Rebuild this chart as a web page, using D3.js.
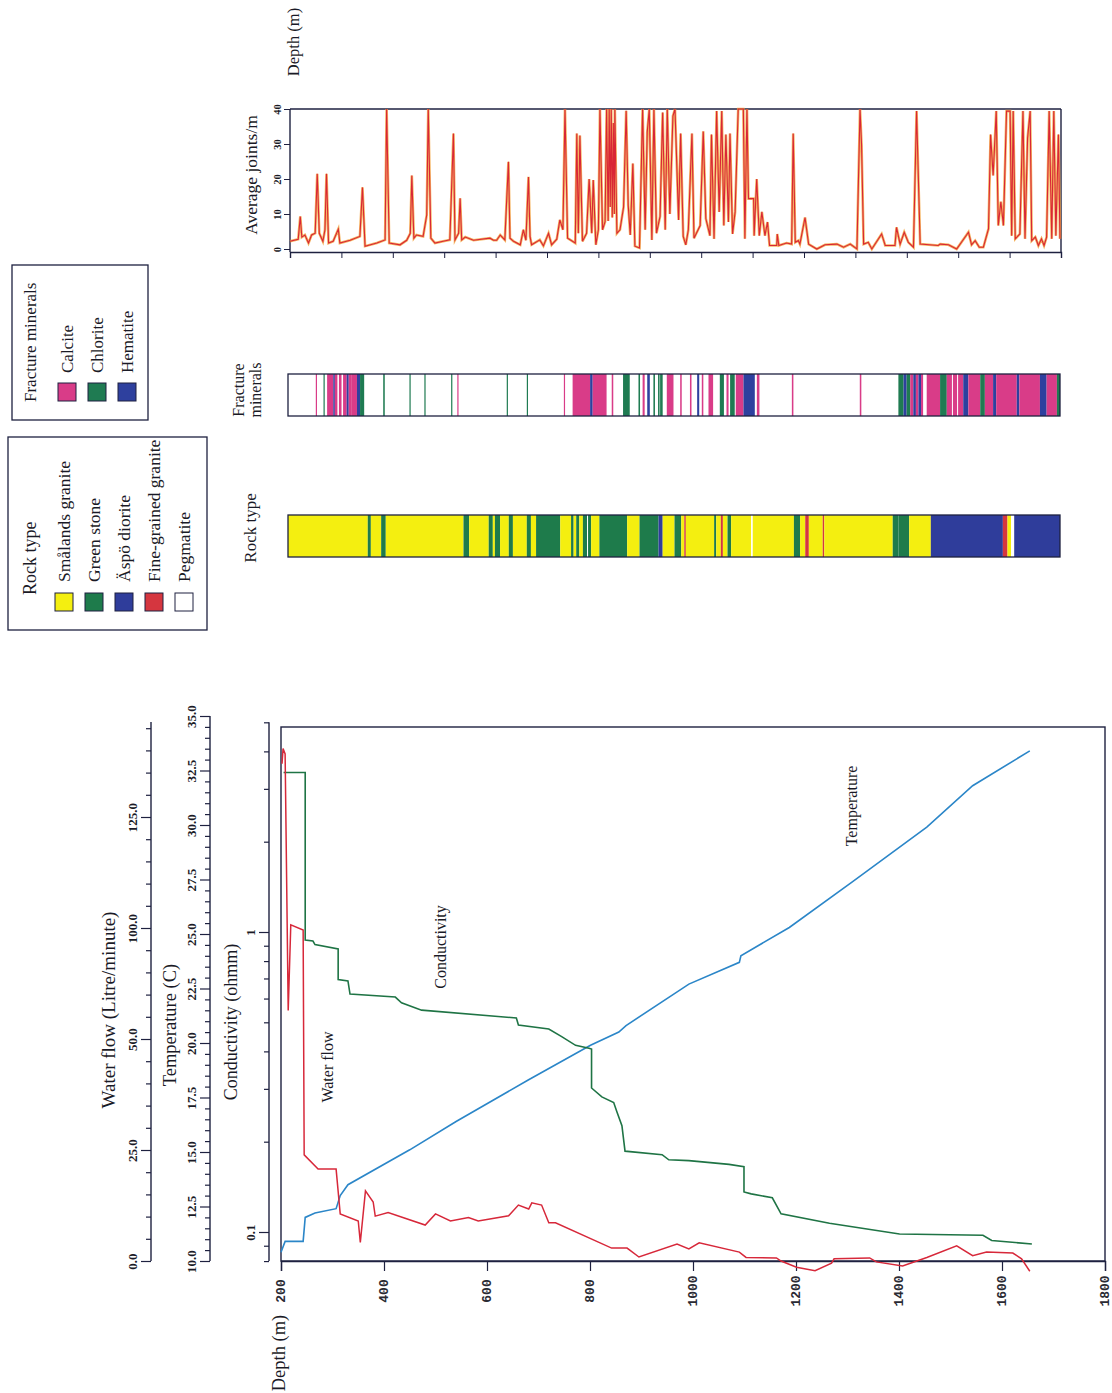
<!DOCTYPE html>
<html><head><meta charset="utf-8">
<script src="https://cdn.jsdelivr.net/npm/d3@7/dist/d3.min.js"></script>
<style>html,body{margin:0;padding:0;background:#fff;}svg{display:block}</style>
</head><body>
<svg id="chart" width="1112" height="1393"></svg>
<script>
// ================= DATA =================
const depthTicksMain = [200, 400, 600, 800, 1000, 1200, 1400, 1600, 1800];
const depthTicksTop = [200, 300, 400, 500, 600, 700, 800, 900, 1000, 1100, 1200, 1300, 1400, 1500, 1600, 1700];
const flowTicks = [0, 25, 50, 100, 125];
const flowTickLabels = ["0.0", "25.0", "50.0", "100.0", "125.0"];
const tempTicks = [10, 12.5, 15, 17.5, 20, 22.5, 25, 27.5, 30, 32.5, 35];
const tempTickLabels = ["10.0", "12.5", "15.0", "17.5", "20.0", "22.5", "25.0", "27.5", "30.0", "32.5", "35.0"];
const condTicks = [0.1, 1];
const condTickLabels = ["0.1", "1"];
const jointTicks = [0, 10, 20, 30, 40];

// Temperature (C) vs depth (m)
const tempDepth = [200, 208, 243, 247, 266, 307, 315, 330, 450, 540, 680, 801, 856, 870, 992, 1090, 1093, 1187, 1310, 1454, 1543, 1654];
const tempValue = [10.4, 10.9, 10.9, 12.0, 12.2, 12.4, 13.0, 13.5, 15.1, 16.4, 18.3, 19.9, 20.5, 20.8, 22.7, 23.7, 24.0, 25.3, 27.4, 29.9, 31.8, 33.4];

// Conductivity (ohmm) vs depth (m)
const condDepth = [205, 247, 247, 262, 266, 311, 311, 330, 334, 422, 434, 473, 657, 661, 720, 745, 772, 798, 803, 803, 823, 846, 852, 862, 868, 940, 953, 992, 1070, 1099, 1099, 1113, 1154, 1171, 1265, 1401, 1563, 1580, 1658];
const condValue = [3.4, 3.4, 0.94, 0.933, 0.908, 0.878, 0.694, 0.687, 0.621, 0.607, 0.581, 0.549, 0.517, 0.49, 0.475, 0.448, 0.419, 0.41, 0.407, 0.302, 0.282, 0.27, 0.252, 0.226, 0.186, 0.181, 0.174, 0.173, 0.168, 0.165, 0.136, 0.134, 0.130, 0.115, 0.107, 0.0985, 0.0975, 0.0937, 0.0912];

// Water flow (Litre/minute) vs depth (m)
const flowDepth = [202, 204, 208, 214, 219, 243, 245, 272, 307, 315, 350, 354, 364, 379, 383, 408, 480, 500, 529, 564, 583, 642, 661, 681, 687, 706, 720, 733, 842, 872, 895, 969, 992, 1012, 1090, 1103, 1162, 1171, 1201, 1237, 1269, 1274, 1343, 1356, 1407, 1454, 1512, 1543, 1570, 1621, 1638, 1654];
const flowValue = [137, 140.4, 139.2, 62.8, 100.7, 99.1, 23.9, 20.7, 20.7, 10.6, 9.0, 4.2, 15.8, 13.3, 10.1, 10.9, 8.1, 10.6, 9.0, 9.8, 9.0, 10.2, 12.6, 11.7, 13.1, 12.6, 8.6, 8.6, 2.9, 2.9, 0.9, 3.8, 2.7, 4.1, 2.0, 0.8, 0.7, 0, -1.4, -2.2, -0.5, 0.5, 0.7, -0.2, -1.1, 0.8, 3.4, 1.2, 2.0, 1.8, 0.5, -2.3];

// Average joints/m vs depth (m)
const jointDepth = [200,216,220,223,229,236,242,249,253,257,264,268,271,275,284,294,297,317,336,341,346,369,385,388,393,414,427,434,437,441,446,459,466,469,474,482,498,511,518,521,528,531,534,541,557,589,596,602,609,618,625,628,635,648,654,659,664,667,670,686,693,703,709,719,725,731,735,740,755,758,761,764,769,777,782,787,790,795,800,803,808,813,816,819,821,823,825,827,829,831,832,836,842,849,854,858,862,867,871,880,886,891,895,899,904,908,913,920,925,930,934,939,945,949,956,960,965,970,975,982,986,994,998,1004,1009,1017,1020,1025,1030,1035,1040,1044,1048,1053,1056,1061,1066,1072,1082,1085,1089,1092,1102,1103,1108,1113,1118,1124,1129,1133,1147,1148,1151,1166,1176,1179,1183,1189,1192,1202,1209,1225,1241,1264,1277,1290,1303,1309,1312,1316,1325,1332,1351,1358,1377,1380,1387,1395,1403,1413,1419,1426,1461,1465,1481,1497,1520,1526,1533,1541,1549,1559,1563,1568,1574,1578,1583,1588,1594,1601,1604,1607,1611,1620,1626,1630,1635,1640,1643,1650,1656,1662,1667,1672,1677,1682,1686,1690,1695,1698];
const jointValue = [2.2,2.8,9.3,3.4,4.0,1.7,4.0,4.5,21.5,4.5,2.2,5.5,21.5,1.7,2.2,5.7,1.7,2.5,3.6,17.6,0.8,1.7,2.6,40,1.7,1.2,2.5,4.5,21,3.1,4.0,3.6,9.7,40,3.1,1.7,2.2,2.6,33,2.6,4.5,14.5,2.6,3.4,2.5,3.1,2.5,2.5,4.0,2.6,24.9,3.1,2.2,1.2,5.5,2.5,20.6,3.6,1.2,2.6,0.9,4.5,1.2,2.8,8.3,5.5,40,3.1,1.7,33,4.5,32.4,2.2,4.5,20,4.5,19.7,1.2,5.5,40,5.5,7.8,40,8,40,12,40,9,36,10,40,4.5,5.5,12,39.5,12.5,4.0,24.4,0.8,0.3,40,5.5,33.4,40,2.6,40,4.5,9.3,39,5.5,40,10,38,40,8.3,33,3.6,1.2,5.5,33,3.1,5.5,6.7,33.6,8.7,3.8,32.7,2.9,39.4,10.6,39.4,6.7,32.7,7.7,33,4.3,10.6,40,40,2.9,40,14.4,14.4,3.8,20,3.8,10.6,3.8,7.7,1.0,1.0,4.3,1.0,1.7,1.4,33,1.9,2.4,1.4,9.0,1.4,0,1.2,1.4,0.5,1.4,0,40,29.8,1.4,1.9,0,4.3,1.0,1.0,6.2,1.4,4.8,1.9,0.5,39.4,1.4,1.0,1.4,1.2,0,4.8,1.2,2.4,0.5,0.5,5.8,32.7,21,39.4,6.7,13.5,6.7,39.4,39.4,3.8,39.4,2.9,4.3,39.4,2.9,31.7,39.4,2.4,3.4,1.0,2.9,1.0,3.4,39.4,2.9,39.4,3.8,32.7,2.9];

// Rock type column: interval tops (m) and rock code; each interval ends at the next top (last ends at rockBase)
const rockFrom = [200,355,361,381,390,541,552,590,598,602,612,629,637,664,672,682,729,750,755,760,766,773,781,783,789,805,859,883,920,928,951,964,970,973,1028,1032,1041,1045,1054,1061,1100,1103,1183,1195,1205,1212,1239,1242,1375,1386,1407,1449,1589,1598,1605,1611];
const rockKind = ["Y","G","Y","G","Y","G","Y","G","Y","G","Y","G","Y","G","Y","G","Y","G","Y","G","Y","G","W","G","Y","G","Y","G","B","Y","G","Y","R","Y","G","Y","R","Y","G","Y","W","Y","G","Y","R","Y","R","Y","G","G","Y","B","R","Y","W","B"];
const rockBase = 1700;

// Fracture minerals column
const fracFrom = [254,269,276,288,291,299,307,314,318,324,334,340,385,436,465,517,529,625,664,736,753,787,792,829,851,881,889,898,910,919,923,936,962,981,995,1004,1017,1039,1052,1059,1070,1085,1111,1179,1311,1386,1396,1402,1409,1415,1420,1425,1430,1441,1467,1480,1492,1502,1512,1522,1545,1554,1570,1576,1616,1621,1661,1674,1694];
const fracTo   = [256,271,288,291,296,304,314,318,324,334,340,348,388,438,467,519,531,627,666,738,787,792,819,832,864,884,893,903,913,922,928,949,965,984,999,1007,1026,1047,1056,1068,1085,1107,1116,1182,1314,1396,1402,1409,1415,1420,1425,1430,1434,1467,1480,1490,1500,1512,1522,1545,1554,1570,1576,1616,1621,1661,1674,1694,1700];
const fracKind = ["Ca","Ch","Ca","He","Ca","Ca","Ca","He","Ca","Ca","He","Ch","Ch","Ch","Ch","Ch","Ca","Ch","Ch","Ca","Ca","He","Ca","Ca","Ch","Ch","Ca","He","Ch","Ch","Ch","Ca","Ca","Ca","He","Ca","Ca","Ch","Ca","Ch","Ca","He","Ca","Ca","Ca","Ch","He","Ch","Ca","He","Ca","He","Ca","Ca","Ch","Ca","Ca","Ca","He","Ca","Ch","Ca","He","Ca","He","Ca","He","Ca","Ch"];

// Legends
const rockCodes = ["Y", "G", "B", "R", "W"];
const rockNames = ["Smålands granite", "Green stone", "Äspö diorite", "Fine-grained granite", "Pegmatite"];
const fracCodes = ["Ca", "Ch", "He"];
const fracNames = ["Calcite", "Chlorite", "Hematite"];

// ================= STYLE =================
const rockColor = {Y: "#f4ef10", G: "#1e7b4b", B: "#2f3d9b", R: "#d5363f", W: "#ffffff"};
const fracColor = {Ca: "#d93c88", Ch: "#1f7b52", He: "#2e409e"};
const SERIF = "'Liberation Serif','Times New Roman',serif";
const MONO = "'Liberation Mono','DejaVu Sans Mono',monospace";
const INK = "#1e2140";
const TXT = "#1a1a26";

const svg = d3.select("#chart");

function vtext(x, y, s, size, anchor, family, weight) {
  return svg.append("text")
    .attr("transform", `translate(${x},${y}) rotate(-90)`)
    .attr("text-anchor", anchor || "middle")
    .attr("dominant-baseline", "central")
    .attr("font-family", family || SERIF)
    .attr("font-size", size)
    .attr("font-weight", weight || "normal")
    .attr("fill", TXT)
    .text(s);
}

function vAxis(scale, x, majors, labels, minors, y0, y1, labelDx, fontSize) {
  const g = svg.append("g").attr("transform", `translate(${x},0)`).attr("color", INK);
  g.append("line").attr("x1", 0).attr("x2", 0).attr("y1", y0).attr("y2", y1)
    .attr("stroke", INK).attr("stroke-width", 1.4);
  const mi = g.append("g").call(d3.axisLeft(scale).tickValues(minors).tickSize(5).tickFormat(""));
  mi.select(".domain").remove();
  const ma = g.append("g").call(d3.axisLeft(scale).tickValues(majors).tickSize(10).tickFormat((d, i) => labels[i]));
  ma.select(".domain").remove();
  ma.selectAll(".tick text").attr("x", null).attr("dy", null)
    .attr("transform", `translate(${-labelDx},0) rotate(-90)`)
    .attr("text-anchor", "middle").attr("dominant-baseline", "central")
    .attr("font-family", SERIF).attr("font-size", fontSize).attr("font-weight", "bold").attr("fill", TXT);
  g.selectAll(".tick line").attr("stroke-width", 1.2);
  return g;
}

// ================= MAIN LOG PLOT =================
const xMain = d3.scaleLinear().domain([200, 1800]).range([281, 1105]);
const yTemp = d3.scaleLinear().domain([10, 35]).range([1261, 716]);
const yFlow = d3.scaleLinear().domain(flowTicks).range([1261, 1150, 1039, 928, 817]);
const yCond = d3.scaleLog().domain([0.1, 1]).range([1232, 932]);
const plotTop = 727, plotBottom = yTemp(10);

// left value axes
const flowMinor = [5,10,15,20,30,35,40,45,60,70,80,90,105,110,115,120,130,135,140,145];
vAxis(yFlow, 151, flowTicks, flowTickLabels, flowMinor, plotBottom, 722, 19, 13);
const tempMinor = d3.range(10, 35.001, 0.5).filter(v => Math.abs(v / 2.5 - Math.round(v / 2.5)) > 1e-6);
vAxis(yTemp, 210, tempTicks, tempTickLabels, tempMinor, plotBottom, yTemp(35), 19, 13);
const condMinor = [0.08, 0.09, 0.2, 0.3, 0.4, 0.5, 0.6, 0.7, 0.8, 0.9, 2, 3, 4, 5];
vAxis(yCond, 269, condTicks, condTickLabels, condMinor, plotBottom, yCond(5), 19, 13);

vtext(108, 1010, "Water flow (Litre/minute)", 19);
vtext(170, 1025, "Temperature (C)", 18.5);
vtext(231, 1022, "Conductivity (ohmm)", 18);

// plot frame
svg.append("rect")
  .attr("x", xMain(200)).attr("y", plotTop)
  .attr("width", xMain(1800) - xMain(200)).attr("height", plotBottom - plotTop)
  .attr("fill", "none").attr("stroke", INK).attr("stroke-width", 1.4);

// depth axis
const dAx = svg.append("g").attr("transform", `translate(0,${plotBottom})`).attr("color", INK)
  .call(d3.axisBottom(xMain).tickValues(depthTicksMain).tickSize(10).tickFormat(d3.format("d")));
dAx.select(".domain").attr("stroke-width", 1.4);
dAx.selectAll(".tick line").attr("stroke-width", 1.2);
dAx.selectAll(".tick text").attr("y", null).attr("dy", null)
  .attr("transform", "translate(0,30) rotate(-90)")
  .attr("text-anchor", "middle").attr("dominant-baseline", "central")
  .attr("font-family", MONO).attr("font-size", 13).attr("font-weight", "bold").attr("fill", "#2a2a33");
vtext(279, 1353, "Depth (m)", 18.5);

// curves
function series(depths, values, yScale, xScale) {
  return d3.line().x(i => xScale(depths[i])).y(i => yScale(values[i]))(d3.range(depths.length));
}
svg.append("path").attr("d", series(tempDepth, tempValue, yTemp, xMain))
  .attr("fill", "none").attr("stroke", "#2b86c8").attr("stroke-width", 1.6);
svg.append("path").attr("d", series(condDepth, condValue, yCond, xMain))
  .attr("fill", "none").attr("stroke", "#1f7445").attr("stroke-width", 1.6);
svg.append("path").attr("d", series(flowDepth, flowValue, yFlow, xMain))
  .attr("fill", "none").attr("stroke", "#d7283a").attr("stroke-width", 1.5);

vtext(440, 947, "Conductivity", 16);
vtext(327, 1067, "Water flow", 16);
vtext(851, 806, "Temperature", 16);

// ================= JOINTS PANEL =================
const xTop = d3.scaleLinear().domain([200, 1700]).range([290, 1061]);
const yJoint = d3.scaleLinear().domain([0, 40]).range([249, 109]);
const jBottom = 252;
svg.append("line").attr("x1", xTop(200)).attr("x2", xTop(1700)).attr("y1", yJoint(40)).attr("y2", yJoint(40))
  .attr("stroke", INK).attr("stroke-width", 1.4);
svg.append("line").attr("x1", xTop(1700)).attr("x2", xTop(1700)).attr("y1", yJoint(40)).attr("y2", jBottom)
  .attr("stroke", INK).attr("stroke-width", 1.4);
const jl = svg.append("g").attr("transform", `translate(${xTop(200)},0)`).attr("color", INK)
  .call(d3.axisLeft(yJoint).tickValues(jointTicks).tickSize(6));
jl.select(".domain").remove();
jl.append("line").attr("x1", 0).attr("x2", 0).attr("y1", jBottom).attr("y2", yJoint(40)).attr("stroke", INK).attr("stroke-width", 1.4);
jl.selectAll(".tick text").attr("x", null).attr("dy", null)
  .attr("transform", "translate(-13,0) rotate(-90)")
  .attr("text-anchor", "middle").attr("dominant-baseline", "central")
  .attr("font-family", SERIF).attr("font-size", 10.5).attr("font-weight", "bold").attr("fill", TXT);
const jb = svg.append("g").attr("transform", `translate(0,${jBottom})`).attr("color", INK)
  .call(d3.axisBottom(xTop).tickValues(depthTicksTop).tickSize(6).tickFormat(""));
jb.select(".domain").attr("stroke-width", 1.4);

const jPath = series(jointDepth, jointValue, yJoint, xTop);
svg.append("path").attr("d", jPath).attr("fill", "none").attr("stroke", "#f2a13a").attr("stroke-width", 2.6).attr("opacity", 0.8);
svg.append("path").attr("d", jPath).attr("fill", "none").attr("stroke", "#d92636").attr("stroke-width", 1.1);

vtext(251, 175, "Average joints/m", 17.5);
vtext(293, 42, "Depth (m)", 16.5);

// ================= COLUMNS =================
const xCol = d3.scaleLinear().domain([200, 1700]).range([288, 1060]);
const fracY = 374, fracH = 42, rockY = 515, rockH = 42;

svg.append("rect").attr("x", xCol(200)).attr("y", fracY).attr("width", xCol(1700) - xCol(200)).attr("height", fracH).attr("fill", "#fff");
svg.append("g").selectAll("rect").data(d3.range(fracFrom.length)).join("rect")
  .attr("x", i => xCol(fracFrom[i])).attr("y", fracY)
  .attr("width", i => Math.max(1.2, xCol(fracTo[i]) - xCol(fracFrom[i]))).attr("height", fracH)
  .attr("fill", i => fracColor[fracKind[i]]);
svg.append("rect").attr("x", xCol(200)).attr("y", fracY).attr("width", xCol(1700) - xCol(200)).attr("height", fracH)
  .attr("fill", "none").attr("stroke", INK).attr("stroke-width", 1.3);

svg.append("g").selectAll("rect").data(d3.range(rockFrom.length)).join("rect")
  .attr("x", i => xCol(rockFrom[i])).attr("y", rockY)
  .attr("width", i => Math.max(1.2, xCol(i + 1 < rockFrom.length ? rockFrom[i + 1] : rockBase) - xCol(rockFrom[i]))).attr("height", rockH)
  .attr("fill", i => rockColor[rockKind[i]]);
svg.append("rect").attr("x", xCol(200)).attr("y", rockY).attr("width", xCol(1700) - xCol(200)).attr("height", rockH)
  .attr("fill", "none").attr("stroke", INK).attr("stroke-width", 1.3);

vtext(250, 528, "Rock type", 17);
vtext(238, 390, "Fracture", 16);
vtext(255, 390, "minerals", 16);

// ================= LEGENDS =================
svg.append("rect").attr("x", 12).attr("y", 265).attr("width", 136).attr("height", 155)
  .attr("fill", "none").attr("stroke", INK).attr("stroke-width", 1.3);
vtext(30, 402, "Fracture minerals", 17, "start");
fracCodes.forEach((c, i) => {
  svg.append("rect").attr("x", 58 + i * 30).attr("y", 383).attr("width", 18).attr("height", 18)
    .attr("fill", fracColor[c]).attr("stroke", INK).attr("stroke-width", 1);
  vtext(67 + i * 30, 373, fracNames[i], 17, "start");
});

svg.append("rect").attr("x", 8).attr("y", 437).attr("width", 199).attr("height", 193)
  .attr("fill", "none").attr("stroke", INK).attr("stroke-width", 1.3);
vtext(30, 595, "Rock type", 18, "start");
rockCodes.forEach((c, i) => {
  svg.append("rect").attr("x", 55 + i * 30).attr("y", 593).attr("width", 18).attr("height", 18)
    .attr("fill", rockColor[c]).attr("stroke", INK).attr("stroke-width", 1);
  vtext(64 + i * 30, 582, rockNames[i], 17.5, "start");
});
</script>
</body></html>
